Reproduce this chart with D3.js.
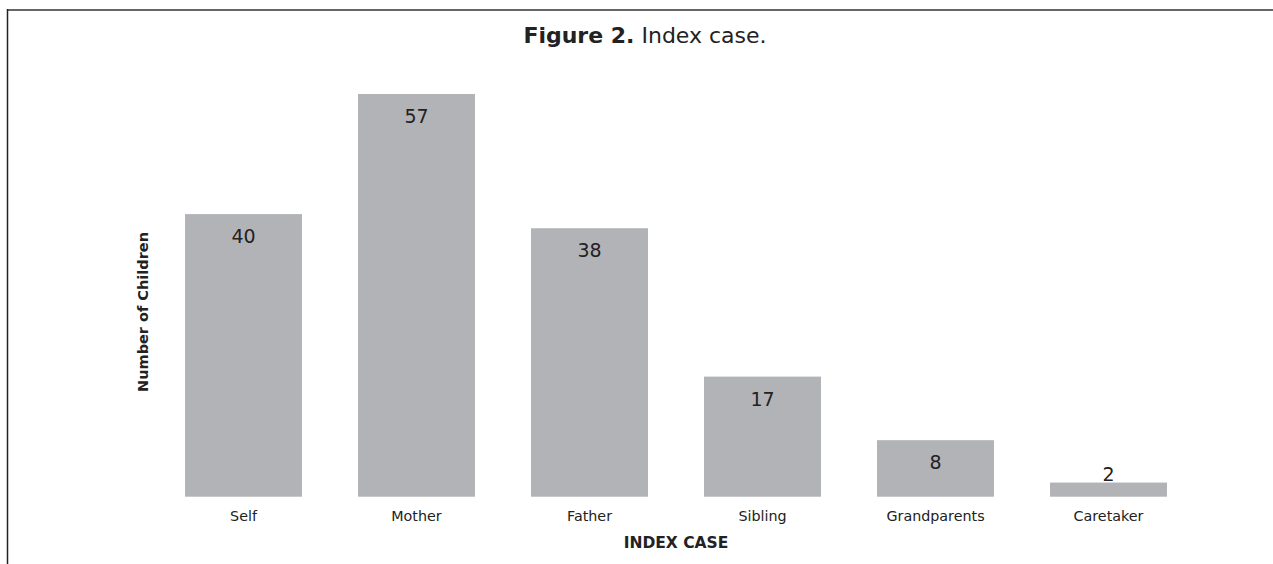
<!DOCTYPE html>
<html>
<head>
<meta charset="utf-8">
<script src="https://cdn.jsdelivr.net/npm/d3@7"></script>
<style>
  html, body { margin: 0; padding: 0; background: #fff; }
  svg { display: block; }
  text { font-family: "DejaVu Sans", Verdana, sans-serif; fill: #222; }
</style>
</head>
<body>
<svg id="chart" width="1273" height="564"></svg>
<script>
const categories = ["Self", "Mother", "Father", "Sibling", "Grandparents", "Caretaker"];
const values = [40, 57, 38, 17, 8, 2];
const titleBold = "Figure 2.";
const titleRest = " Index case.";
const xTitle = "INDEX CASE";
const yTitle = "Number of Children";

const W = 1273, H = 564;
const svg = d3.select("#chart");

// frame lines
svg.append("line").attr("x1", 7).attr("x2", W).attr("y1", 10).attr("y2", 10)
  .attr("stroke", "#666").attr("stroke-width", 2);
svg.append("line").attr("x1", 7.5).attr("x2", 7.5).attr("y1", 9).attr("y2", H)
  .attr("stroke", "#222").attr("stroke-width", 1.5);

// title
const t = svg.append("text").attr("x", 645).attr("y", 42.5)
  .attr("text-anchor", "middle").attr("font-size", 22);
t.append("tspan").attr("font-weight", "bold").text(titleBold);
t.append("tspan").text(titleRest);

const x = d3.scaleBand().domain(categories).range([157, 1195])
  .paddingInner(0.324).paddingOuter(0.162);
const y = d3.scaleLinear().domain([0, 57]).range([496.7, 94]);

svg.append("g").selectAll("rect").data(values).join("rect")
  .attr("x", (d, i) => x(categories[i]))
  .attr("width", x.bandwidth())
  .attr("y", d => y(d))
  .attr("height", d => y(0) - y(d))
  .attr("fill", "#b2b3b7");

svg.append("g").selectAll("text").data(values).join("text")
  .attr("x", (d, i) => x(categories[i]) + x.bandwidth() / 2)
  .attr("y", d => (y(0) - y(d) < 40) ? y(d) - 2 : y(d) + 29)
  .attr("text-anchor", "middle").attr("font-size", 19)
  .text(d => d);

// x axis (labels only)
const xAxis = d3.axisBottom(x).tickSize(0).tickPadding(0);
const gx = svg.append("g").attr("transform", "translate(0,496.7)").call(xAxis);
gx.select(".domain").remove();
gx.selectAll("text").attr("font-size", 14.3).attr("font-family", "DejaVu Sans, sans-serif")
  .attr("fill", "#222").attr("dy", null).attr("y", 24);

svg.append("text").attr("x", 676).attr("y", 548)
  .attr("text-anchor", "middle").attr("font-size", 15.5).attr("font-weight", "bold")
  .text(xTitle);

svg.append("text").attr("transform", "translate(147.5,312) rotate(-90)")
  .attr("text-anchor", "middle").attr("font-size", 14.5).attr("font-weight", "bold")
  .text(yTitle);
</script>
</body>
</html>
